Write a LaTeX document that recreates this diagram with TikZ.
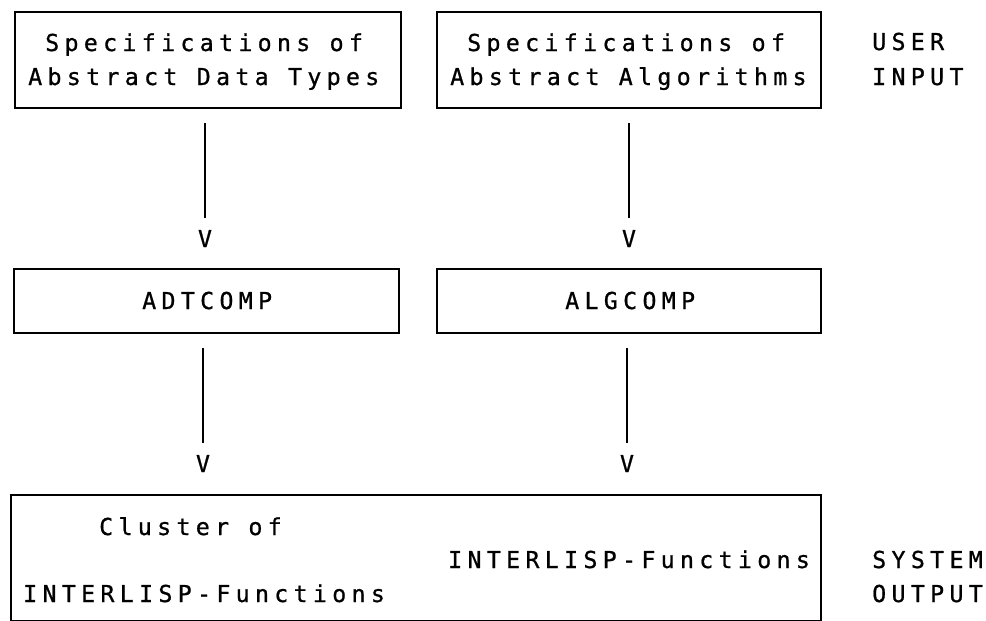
\documentclass[tikz,border=0pt]{standalone}
\usepackage{fontspec}
\newfontfamily\typefont[LetterSpace=22.7,FakeBold=0.8]{DejaVu Sans Mono}
\begin{document}
\begin{tikzpicture}[x=1pt,y=-1pt,
  box/.style={draw, line width=1.7pt, inner sep=0pt, anchor=north west},
  txt/.style={font=\typefont\fontsize{23.3}{28}\selectfont, inner sep=0pt, anchor=base west},
  vmark/.style={font=\typefont\fontsize{23.3}{28}\selectfont, inner xsep=0pt, inner ysep=12pt, anchor=base},
  wire/.style={line width=1.7pt}]
\useasboundingbox (0,0) rectangle (986,621);
% boxes
\node[box, minimum width=386pt, minimum height=96pt] (b1) at (14,11) {};
\node[box, minimum width=384pt, minimum height=96pt] (b2) at (436,11) {};
\node[box, minimum width=385pt, minimum height=64pt] (c1) at (13,268) {};
\node[box, minimum width=384pt, minimum height=64pt] (c2) at (436,268) {};
\node[box, minimum width=810pt, minimum height=126pt] (d) at (10,494) {};
% texts
\node[txt] (t1a) at (45,51) {Specifications of};
\node[txt] (t1b) at (28,85) {Abstract Data Types};
\node[txt] (t2a) at (467,51) {Specifications of};
\node[txt] (t2b) at (450,85) {Abstract Algorithms};
\node[txt] (ui1) at (872,50) {USER};
\node[txt] (ui2) at (872,85) {INPUT};
\node[txt] (tc1) at (142,309) {ADTCOMP};
\node[txt] (tc2) at (565,309) {ALGCOMP};
\node[txt] (td1) at (99,535) {Cluster of};
\node[txt] (td2) at (448,568) {INTERLISP-Functions};
\node[txt] (td3) at (23,602) {INTERLISP-Functions};
\node[txt] (so1) at (872,568) {SYSTEM};
\node[txt] (so2) at (872,602) {OUTPUT};
% arrows
\node[vmark] (v1) at (205,247) {V};
\node[vmark] (v2) at (629,247) {V};
\node[vmark] (v3) at (203,472) {V};
\node[vmark] (v4) at (627,472) {V};
\coordinate (s1) at (205,123);
\coordinate (s2) at (629,123);
\coordinate (s3) at (203,348);
\coordinate (s4) at (627,348);
\draw[wire] (s1) -- (v1.north);
\draw[wire] (s2) -- (v2.north);
\draw[wire] (s3) -- (v3.north);
\draw[wire] (s4) -- (v4.north);
\end{tikzpicture}
\end{document}
